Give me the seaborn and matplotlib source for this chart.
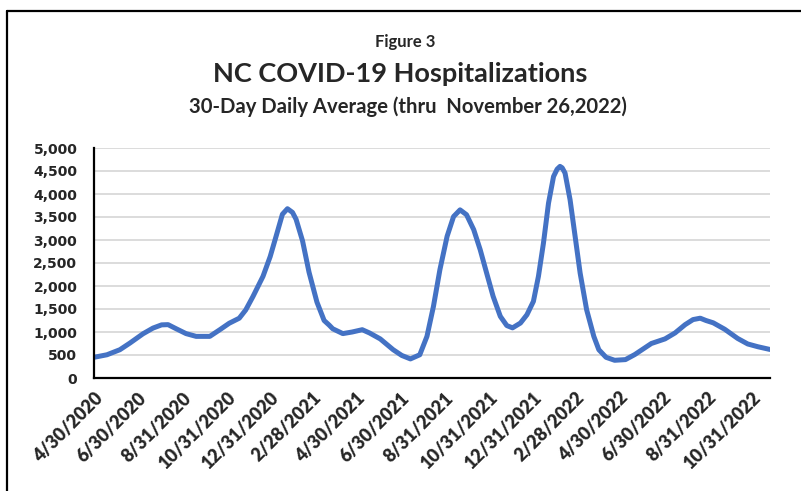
import pandas as pd
import matplotlib.pyplot as plt
from matplotlib.lines import Line2D
import seaborn as sns

# Data
dates = [
    "2020-04-30", "2020-05-18", "2020-06-05", "2020-06-19", "2020-07-07", "2020-07-21",
    "2020-08-02", "2020-08-11", "2020-08-23", "2020-09-05", "2020-09-19", "2020-10-08",
    "2020-10-22", "2020-11-04", "2020-11-18", "2020-11-27", "2020-12-07", "2020-12-21",
    "2020-12-31", "2021-01-08", "2021-01-17", "2021-01-24", "2021-01-31", "2021-02-05",
    "2021-02-14", "2021-02-23", "2021-03-06", "2021-03-16", "2021-03-23", "2021-03-28",
    "2021-04-11", "2021-04-24", "2021-05-08", "2021-05-18", "2021-06-02", "2021-06-20",
    "2021-07-02", "2021-07-14", "2021-07-27", "2021-08-06", "2021-08-15", "2021-08-24",
    "2021-09-03", "2021-09-12", "2021-09-21", "2021-09-30", "2021-10-10", "2021-10-19",
    "2021-10-28", "2021-11-06", "2021-11-16", "2021-11-25", "2021-12-03", "2021-12-14",
    "2021-12-23", "2022-01-01", "2022-01-08", "2022-01-15", "2022-01-22", "2022-01-29",
    "2022-02-03", "2022-02-07", "2022-02-10", "2022-02-14", "2022-02-21", "2022-02-28",
    "2022-03-07", "2022-03-16", "2022-03-26", "2022-04-02", "2022-04-12", "2022-04-24",
    "2022-05-09", "2022-05-22", "2022-06-14", "2022-07-03", "2022-07-17", "2022-07-31",
    "2022-08-11", "2022-08-21", "2022-08-29", "2022-09-08", "2022-09-24", "2022-10-12",
    "2022-10-26", "2022-11-09", "2022-11-26",
]
hospitalizations = [
    450, 505, 615, 760, 960, 1085,
    1155, 1160, 1065, 965, 905, 905,
    1050, 1190, 1300, 1480, 1770, 2210,
    2640, 3070, 3560, 3680, 3600, 3450,
    2980, 2300, 1650, 1250, 1150, 1070,
    965, 1000, 1050, 980, 850, 615,
    490, 415, 505, 905, 1555, 2355,
    3080, 3510, 3655, 3550, 3225, 2790,
    2280, 1775, 1340, 1140, 1090, 1195,
    1375, 1665, 2210, 2935, 3800, 4380,
    4540, 4600, 4570, 4455, 3875, 3080,
    2280, 1485, 905, 615, 450, 385,
    400, 510, 750, 850, 980, 1160,
    1270, 1300, 1250, 1200, 1060, 860,
    740, 680, 620,
]
tick_dates = [
    "2020-04-30", "2020-06-30", "2020-08-31", "2020-10-31", "2020-12-31", "2021-02-28",
    "2021-04-30", "2021-06-30", "2021-08-31", "2021-10-31", "2021-12-31", "2022-02-28",
    "2022-04-30", "2022-06-30", "2022-08-31", "2022-10-31",
]
tick_labels = [
    "4/30/2020", "6/30/2020", "8/31/2020", "10/31/2020", "12/31/2020", "2/28/2021",
    "4/30/2021", "6/30/2021", "8/31/2021", "10/31/2021", "12/31/2021", "2/28/2022",
    "4/30/2022", "6/30/2022", "8/31/2022", "10/31/2022",
]

df = pd.DataFrame({"date": pd.to_datetime(dates), "value": hospitalizations})

sns.set_theme(style="white")
plt.rcParams['font.family'] = ['Lato', 'DejaVu Sans']

W, H = 801, 491
fig = plt.figure(figsize=(W / 100, H / 100), dpi=100)
ax = fig.add_axes([94 / W, 1 - 378 / H, (770 - 94) / W, (378 - 148) / H])

sns.lineplot(data=df, x="date", y="value", ax=ax, color="#4472C4",
             linewidth=3.6, solid_joinstyle="round", solid_capstyle="round")

ax.set_xlim(pd.Timestamp("2020-04-30"), pd.Timestamp("2022-11-26"))
ax.set_ylim(0, 5000)
ax.set_yticks(range(0, 5001, 500))
ax.set_yticklabels([f"{v:,}" for v in range(0, 5001, 500)],
                   fontfamily="DejaVu Sans", fontweight="bold", fontsize=10)
ax.yaxis.grid(True, color="#d9d9d9", linewidth=1.3)
ax.set_axisbelow(True)

ax.set_xticks(pd.to_datetime(tick_dates))
ax.set_xticklabels(tick_labels, rotation=45, ha="right", rotation_mode="anchor",
                   fontweight="heavy", fontsize=13)
ax.tick_params(axis="x", direction="out", length=5, width=1.5, color="black", pad=3)
ax.tick_params(axis="y", length=0, pad=12)
ax.set_xlabel("")
ax.set_ylabel("")

for side in ["top", "right"]:
    ax.spines[side].set_visible(False)
for side in ["left", "bottom"]:
    ax.spines[side].set_color("black")
    ax.spines[side].set_linewidth(1.6)

# titles
fig.text(405 / W, 1 - 42 / H, "Figure 3", ha="center", va="center",
         fontweight="bold", fontsize=12)
fig.text(400 / W, 1 - 74 / H, "NC COVID-19 Hospitalizations", ha="center", va="center",
         fontweight="bold", fontsize=19.5)
fig.text(408 / W, 1 - 107 / H, "30-Day Daily Average (thru  November 26,2022)",
         ha="center", va="center", fontweight="bold", fontsize=14.6)

# outer frame (cropped at right and bottom)
fig.add_artist(Line2D([7 / W, 1.0], [1 - 11 / H, 1 - 11 / H], color="black", linewidth=1.6))
fig.add_artist(Line2D([7 / W, 7 / W], [1 - 11 / H, 0.0], color="black", linewidth=1.6))

fig.savefig("out.png", dpi=100)
